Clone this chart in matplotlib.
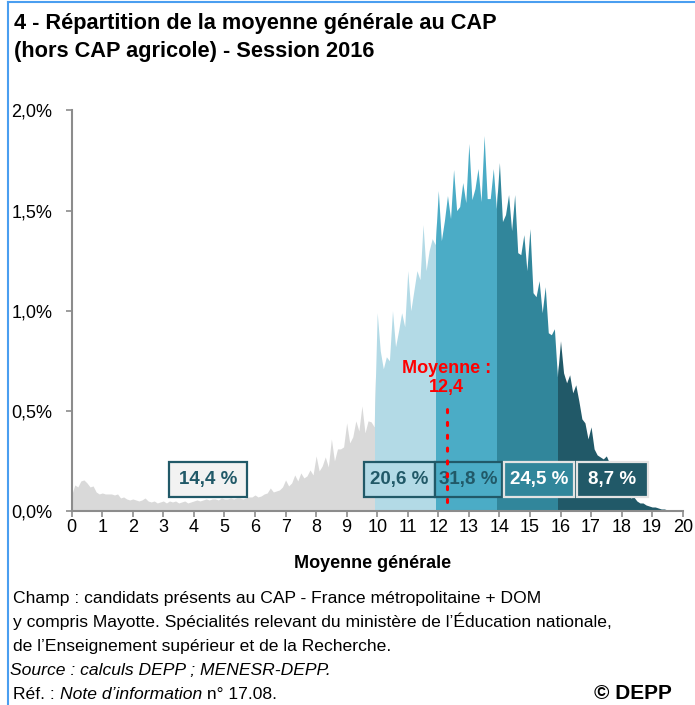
import matplotlib
matplotlib.use('Agg')
import matplotlib.pyplot as plt
from matplotlib.patches import Rectangle
from matplotlib.lines import Line2D

# moyenne générale (pas de 0,1 point) et part des candidats (%)
notes = [i / 10 for i in range(201)]
pct = [
    0.08, 0.13, 0.12, 0.15, 0.155, 0.14, 0.12, 0.125, 0.095, 0.085,
    0.09, 0.085, 0.085, 0.085, 0.08, 0.085, 0.065, 0.07, 0.06, 0.055,
    0.06, 0.055, 0.05, 0.055, 0.065, 0.05, 0.045, 0.05, 0.04, 0.045,
    0.05, 0.04, 0.05, 0.045, 0.05, 0.04, 0.045, 0.05, 0.04, 0.045,
    0.05, 0.055, 0.05, 0.055, 0.06, 0.055, 0.06, 0.06, 0.055, 0.065,
    0.06, 0.06, 0.065, 0.06, 0.065, 0.065, 0.06, 0.065, 0.07, 0.07,
    0.08, 0.07, 0.075, 0.085, 0.09, 0.115, 0.095, 0.10, 0.105, 0.12,
    0.155, 0.125, 0.14, 0.18, 0.15, 0.19, 0.165, 0.175, 0.205, 0.18,
    0.275, 0.20, 0.225, 0.27, 0.22, 0.36, 0.25, 0.31, 0.31, 0.32,
    0.44, 0.34, 0.37, 0.45, 0.40, 0.525, 0.39, 0.45, 0.445, 0.42,
    0.99, 0.80, 0.71, 0.77, 0.75, 1.00, 0.82, 0.90, 0.99, 0.92,
    1.20, 1.00, 1.10, 1.20, 1.155, 1.43, 1.20, 1.30, 1.36, 1.33,
    1.60, 1.35, 1.45, 1.575, 1.46, 1.705, 1.50, 1.52, 1.64, 1.54,
    1.835, 1.555, 1.61, 1.71, 1.545, 1.875, 1.56, 1.56, 1.71, 1.51,
    1.74, 1.445, 1.48, 1.58, 1.40, 1.58, 1.29, 1.28, 1.38, 1.20,
    1.41, 1.09, 1.07, 1.15, 0.99, 1.12, 0.89, 0.88, 0.91, 0.67,
    0.85, 0.69, 0.64, 0.68, 0.59, 0.63, 0.55, 0.46, 0.44, 0.36,
    0.42, 0.31, 0.28, 0.27, 0.26, 0.275, 0.24, 0.21, 0.18, 0.15,
    0.13, 0.11, 0.09, 0.065, 0.07, 0.05, 0.04, 0.04, 0.03, 0.025,
    0.02, 0.02, 0.015, 0.01, 0.01, 0.005, 0.005, 0.0, 0.0, 0.0,
    0.0,
]

# tranches de notes et part des candidats dans chaque tranche
bornes = [0, 10, 12, 14, 16, 20]
parts = ['14,4 %', '20,6 %', '31,8 %', '24,5 %', '8,7 %']
moyenne = '12,4'

couleurs = ['#D9D9D9', '#B3DAE6', '#4BACC6', '#31869B', '#215968']
bords = ['#215968', '#215968', '#215968', '#E3E3E3', '#E3E3E3']
textes = ['#215968', '#215968', '#215968', 'white', 'white']
gris = '#8C8C8C'

plt.rcParams['font.family'] = ['Liberation Sans', 'DejaVu Sans']

fig = plt.figure(figsize=(6.95, 7.05), dpi=100)
ax = fig.add_axes([0.1032, 0.2752, 0.8791, 0.5681])

# aires colorées par tranche (léger décalage comme sur l'original)
decal = 0.07
for i in range(5):
    poly = ax.fill_between(notes, pct, 0, color=couleurs[i], lw=0)
    x0 = bornes[i] - decal if i > 0 else -1
    x1 = bornes[i + 1] - decal if i < 4 else 21
    poly.set_clip_path(Rectangle((x0, 0), x1 - x0, 3, transform=ax.transData))

# cadres des pourcentages
boites_x = [(3.19, 5.75), (9.56, 11.88), (11.88, 14.1), (14.15, 16.45), (16.53, 18.87)]
for i in range(5):
    a, b = boites_x[i]
    ax.add_patch(Rectangle((a, 0.068), b - a, 0.178, facecolor='#F2F2F2' if i == 0 else couleurs[i],
                           edgecolor=bords[i], lw=1.6, zorder=4, clip_on=False))
    ax.text((a + b) / 2, 0.157, parts[i], ha='center', va='center', fontsize=13.5,
            fontweight='bold', color=textes[i], zorder=5)

# moyenne
ax.plot([12.28, 12.28], [0.045, 0.52], color='red', lw=2.2, linestyle=(0, (1, 3.2)),
        zorder=6, dash_capstyle='round')
ax.text(12.28, 0.665, 'Moyenne :\n' + moyenne, ha='center', va='center', color='red',
        fontsize=13, fontweight='bold', linespacing=1.15, zorder=6)

ax.set_xlim(0, 20)
ax.set_ylim(0, 2.0)
ax.set_xticks(range(21))
ax.set_yticks([0, 0.5, 1.0, 1.5, 2.0])
ax.set_yticklabels(['0,0%', '0,5%', '1,0%', '1,5%', '2,0%'])
for s in ['top', 'right']:
    ax.spines[s].set_visible(False)
for s in ['left', 'bottom']:
    ax.spines[s].set_color(gris)
    ax.spines[s].set_linewidth(1.5)
ax.tick_params(axis='both', colors=gris, width=1.2, length=4, labelsize=13, labelcolor='black')
ax.tick_params(axis='y', pad=10)
ax.tick_params(axis='x', pad=2)

fig.text(373 / 695, 1 - 563 / 705, 'Moyenne générale', ha='center', va='center',
         fontsize=13, fontweight='bold')

# titre
fig.text(14 / 695, 1 - 29.5 / 705, '4 - Répartition de la moyenne générale au CAP',
         fontsize=15.7, fontweight='bold', va='baseline')
fig.text(14 / 695, 1 - 57 / 705, '(hors CAP agricole) - Session 2016',
         fontsize=15.7, fontweight='bold', va='baseline')

# notes de bas
taille = 12.6
lignes = ['Champ : candidats présents au CAP - France métropolitaine + DOM',
          'y compris Mayotte. Spécialités relevant du ministère de l’Éducation nationale,',
          'de l’Enseignement supérieur et de la Recherche.']
for k, l in enumerate(lignes):
    fig.text(13 / 695, 1 - (603 + 24 * k) / 705, l, fontsize=taille, va='baseline')
fig.text(10 / 695, 1 - 675 / 705, 'Source : calculs DEPP ; MENESR-DEPP.',
         fontsize=taille, style='italic', va='baseline')
t1 = fig.text(13 / 695, 1 - 699 / 705, 'Réf. : ', fontsize=taille, va='baseline')
t2 = ax.annotate('Note d’information', xy=(1, 0), xycoords=t1, fontsize=taille,
                 style='italic', va='bottom', annotation_clip=False)
ax.annotate(' n° 17.08.', xy=(1, 0), xycoords=t2, fontsize=taille,
            va='bottom', annotation_clip=False)
fig.text(672 / 695, 1 - 699 / 705, '© DEPP', ha='right', fontsize=15, fontweight='bold',
         va='baseline')

# cadre bleu
fig.add_artist(Line2D([7.5 / 695, 7.5 / 695], [0, 1 - 1.5 / 705], color='#4A9EF0', lw=1.5))
fig.add_artist(Line2D([7.5 / 695, 1], [1 - 1.5 / 705, 1 - 1.5 / 705], color='#4A9EF0', lw=1.5))

fig.savefig('out.png', dpi=100, facecolor='white')
